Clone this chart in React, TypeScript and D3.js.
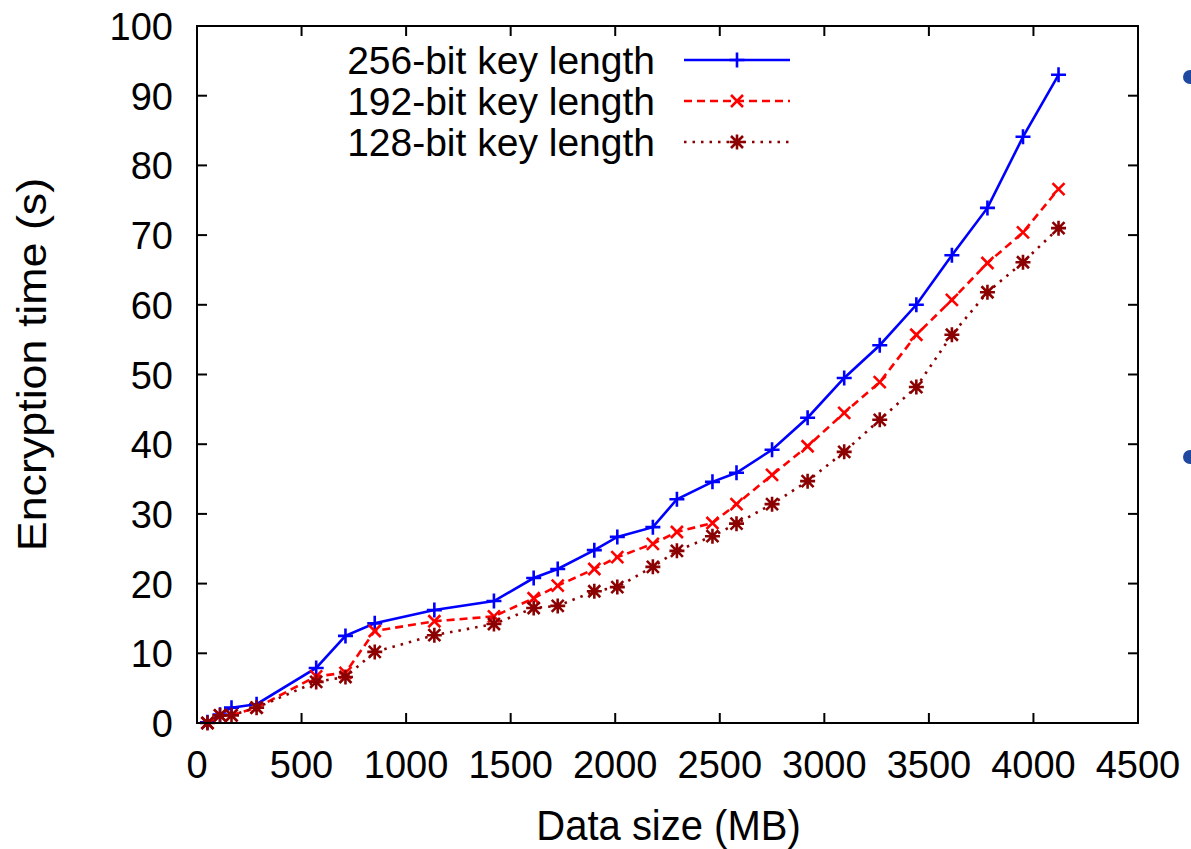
import React from "react";
import * as d3 from "d3";

// data sizes (MB), shared by all three series
const sizes = [50, 110, 165, 285, 570, 710, 850, 1135, 1420, 1610, 1725, 1900, 2010, 2180, 2295, 2465, 2580, 2750, 2920, 3095, 3265, 3440, 3610, 3780, 3950, 4120];

const key256 = [0.1, 1.2, 2.2, 2.7, 7.9, 12.5, 14.3, 16.2, 17.5, 20.8, 22.1, 24.8, 26.7, 28.1, 32.1, 34.6, 35.9, 39.2, 43.8, 49.5, 54.2, 60.0, 67.1, 73.9, 84.1, 93.0];
const key192 = [0.0, 1.1, 1.1, 2.2, 6.7, 7.2, 13.2, 14.6, 15.3, 17.9, 19.7, 22.1, 23.8, 25.7, 27.4, 28.7, 31.4, 35.6, 39.7, 44.5, 48.9, 55.7, 60.7, 66.0, 70.4, 76.6];
const key128 = [0.0, 1.1, 1.1, 2.2, 5.9, 6.6, 10.2, 12.6, 14.2, 16.5, 16.8, 18.9, 19.5, 22.4, 24.7, 26.8, 28.6, 31.4, 34.7, 38.9, 43.5, 48.2, 55.7, 61.8, 66.1, 71.0];

const xTicks = [0, 500, 1000, 1500, 2000, 2500, 3000, 3500, 4000, 4500];
const yTicks = [0, 10, 20, 30, 40, 50, 60, 70, 80, 90, 100];

const series = [
  { label: "256-bit key length", values: key256, color: "#0000ff", dash: "none", marker: "plus" },
  { label: "192-bit key length", values: key192, color: "#ff0000", dash: "8,5", marker: "cross" },
  { label: "128-bit key length", values: key128, color: "#8b0000", dash: "2.5,6", marker: "star" },
];

const W = 1191;
const H = 849;
const m = { left: 197, right: 1138, top: 26, bottom: 723 };
const font = "'Liberation Sans', Arial, Helvetica, sans-serif";

// text in the source is a little taller than wide
const Label = ({ x, y, size, anchor = "start", sy = 1.06, children }) => (
  <text
    transform={`translate(${x},${y}) scale(1,${sy})`}
    textAnchor={anchor}
    fontFamily={font}
    fontSize={size}
  >
    {children}
  </text>
);

const Marker = ({ type, x, y, color }) => {
  const s = 7.5;
  const d = 6;
  const plus = `M${x - s},${y}H${x + s}M${x},${y - s}V${y + s}`;
  const cross = `M${x - d},${y - d}L${x + d},${y + d}M${x - d},${y + d}L${x + d},${y - d}`;
  const path = type === "plus" ? plus : type === "cross" ? cross : plus + cross;
  return <path d={path} stroke={color} strokeWidth={2.6} fill="none" />;
};

export default function App() {
  const x = d3.scaleLinear().domain([0, 4500]).range([m.left, m.right]);
  const y = d3.scaleLinear().domain([0, 100]).range([m.bottom, m.top]);
  const line = d3.line<number>()
    .x((_, i) => x(sizes[i]))
    .y((v) => y(v));

  return (
    <svg width={W} height={H} style={{ position: "absolute", left: 0, top: 0, background: "#fff" }}>
      <rect width={W} height={H} fill="#fff" />

      {/* ticks, mirrored on all sides */}
      {xTicks.map((t) => (
        <g key={"x" + t}>
          {t > 0 && t < 4500 && (
            <>
              <line x1={x(t)} x2={x(t)} y1={m.bottom} y2={m.bottom - 10} stroke="#000" strokeWidth={2} />
              <line x1={x(t)} x2={x(t)} y1={m.top} y2={m.top + 10} stroke="#000" strokeWidth={2} />
            </>
          )}
          <Label x={x(t)} y={778} size={38} anchor="middle" sy={1.04}>{t}</Label>
        </g>
      ))}
      {yTicks.map((t) => (
        <g key={"y" + t}>
          {t > 0 && t < 100 && (
            <>
              <line x1={m.left} x2={m.left + 10} y1={y(t)} y2={y(t)} stroke="#000" strokeWidth={2} />
              <line x1={m.right} x2={m.right - 10} y1={y(t)} y2={y(t)} stroke="#000" strokeWidth={2} />
            </>
          )}
          <Label x={173} y={y(t) + 14} size={38} anchor="end" sy={1.04}>{t}</Label>
        </g>
      ))}

      {/* series */}
      {series.map((s) => (
        <g key={s.label}>
          <path d={line(s.values) || ""} fill="none" stroke={s.color} strokeWidth={2.6} strokeDasharray={s.dash} />
          {s.values.map((v, i) => (
            <Marker key={i} type={s.marker} x={x(sizes[i])} y={y(v)} color={s.color} />
          ))}
        </g>
      ))}

      {/* legend */}
      {series.map((s, i) => {
        const ly = 60 + i * 41;
        return (
          <g key={"lg" + i}>
            <Label x={655} y={ly + 14} size={39} anchor="end" sy={1.0}>{s.label}</Label>
            <line x1={684} x2={790} y1={ly} y2={ly} stroke={s.color} strokeWidth={2.6} strokeDasharray={s.dash} />
            <Marker type={s.marker} x={737} y={ly} color={s.color} />
          </g>
        );
      })}

      {/* frame */}
      <rect x={m.left} y={m.top} width={m.right - m.left} height={m.bottom - m.top} fill="none" stroke="#000" strokeWidth={2} />

      {/* axis titles */}
      <Label x={(m.left + m.right) / 2 + 1} y={840} size={40} anchor="middle">Data size (MB)</Label>
      <text
        transform={`translate(46,${(m.top + m.bottom) / 2 - 10}) scale(1,1.12) rotate(-90)`}
        textAnchor="middle"
        fontFamily={font}
        fontSize={40}
      >
        Encryption time (s)
      </text>

      {/* slide bullets cut off at the right edge */}
      <circle cx={1190} cy={77} r={7} fill="#1f48a0" />
      <circle cx={1190} cy={457} r={7} fill="#1f48a0" />
    </svg>
  );
}
